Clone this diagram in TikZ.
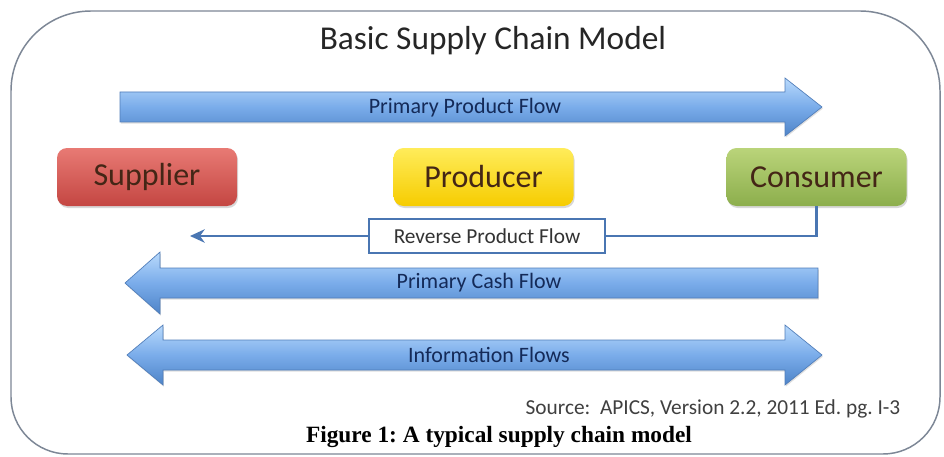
\documentclass[tikz,border=0pt]{standalone}
\usepackage{fontspec}
\setmainfont{Carlito}
\newfontfamily\captionserif{Liberation Serif}
\usetikzlibrary{arrows.meta,shadows}
\definecolor{flowtop}{RGB}{185,218,252}
\definecolor{flowmid}{RGB}{122,172,234}
\definecolor{flowbot}{RGB}{78,132,200}
\definecolor{flowedge}{RGB}{80,125,185}
\definecolor{flowtext}{RGB}{20,42,88}
\definecolor{revblue}{RGB}{74,118,178}
\definecolor{framegray}{RGB}{125,135,150}
\definecolor{suppliertop}{RGB}{232,122,116}
\definecolor{supplierbot}{RGB}{196,70,66}
\definecolor{producertop}{RGB}{255,236,90}
\definecolor{producerbot}{RGB}{246,204,0}
\definecolor{consumertop}{RGB}{186,212,122}
\definecolor{consumerbot}{RGB}{140,174,76}
\definecolor{partytext}{RGB}{68,38,22}
\frenchspacing
\begin{document}
\begin{tikzpicture}[x=0.75pt,y=-0.75pt,
		blockflow/.style={top color=flowtop,bottom color=flowbot,middle color=flowmid,draw=flowedge,line width=0.5pt,drop shadow={opacity=0.25,shadow xshift=0.6pt,shadow yshift=-1.2pt}},
		flowlabel/.style={text=flowtext,font=\fontsize{16.5}{19}\selectfont},
		party/.style={rounded corners=7.5pt,minimum width=135pt,minimum height=43.5pt,inner sep=0pt,text=partytext,font=\fontsize{24}{28}\selectfont,drop shadow={opacity=0.3,shadow xshift=0.8pt,shadow yshift=-1.5pt}},
		revline/.style={draw=revblue,line width=2pt}]
	\useasboundingbox (0,0) rectangle (944,456);
	\fill[white] (0,0) rectangle (944,456);
	\draw[framegray,line width=1.1pt] (11,91) .. controls (11,46.8) and (46.8,11) .. (91,11) -- (860,11) .. controls (904.2,11) and (940,46.8) .. (940,91) -- (940,397) .. controls (940,428.5) and (914.5,454) .. (883,454) -- (68,454) .. controls (36.5,454) and (11,428.5) .. (11,397) -- cycle;
	\node[font=\fontsize{25}{30}\selectfont,text=black!85] (title) at (493,41) {Basic Supply Chain Model};
	\shade[blockflow] (120,92) -- (785,92) -- (785,78) -- (822,107) -- (785,136) -- (785,122) -- (120,122) -- cycle;
	\node[flowlabel] (productflow) at (465,108) {Primary Product Flow};
	\node[party,top color=suppliertop,bottom color=supplierbot] (supplier) at (147,177) {Supplier};
	\node[party,top color=producertop,bottom color=producerbot] (producer) at (483.5,177) {Producer};
	\node[party,top color=consumertop,bottom color=consumerbot] (consumer) at (816.5,177) {Consumer};
	\node[draw=revblue,line width=2pt,fill=white,minimum width=177pt,minimum height=25.5pt,text=black!80,font=\fontsize{16}{19}\selectfont] (reverseflow) at (487,236) {Reverse Product Flow};
	\coordinate (reverseend) at (190,236);
	\draw[revline] (consumer.south) |- (reverseflow.east);
	\draw[revline,-{Stealth[length=11pt,width=10pt,inset=3.5pt]}] (reverseflow.west) -- (reverseend);
	\shade[blockflow] (818,268) -- (160,268) -- (160,252) -- (125,283) -- (160,314) -- (160,298) -- (818,298) -- cycle;
	\node[flowlabel] (cashflow) at (479,283) {Primary Cash Flow};
	\shade[blockflow] (163,340) -- (785,340) -- (785,325) -- (822,355) -- (785,385) -- (785,370) -- (163,370) -- (163,385) -- (127,355) -- (163,325) -- cycle;
	\node[flowlabel] (infoflow) at (489,355) {Information Flows};
	\node[anchor=base east,text=black!75,font=\fontsize{16}{19}\selectfont] (source) at (905,414) {Source:\ \ APICS, Version 2.2, 2011 Ed. pg. I-3};
	\node[anchor=base,font=\captionserif\bfseries\fontsize{17.5}{21}\selectfont] (caption) at (499,442) {Figure 1: A typical supply chain model};
\end{tikzpicture}
\end{document}
